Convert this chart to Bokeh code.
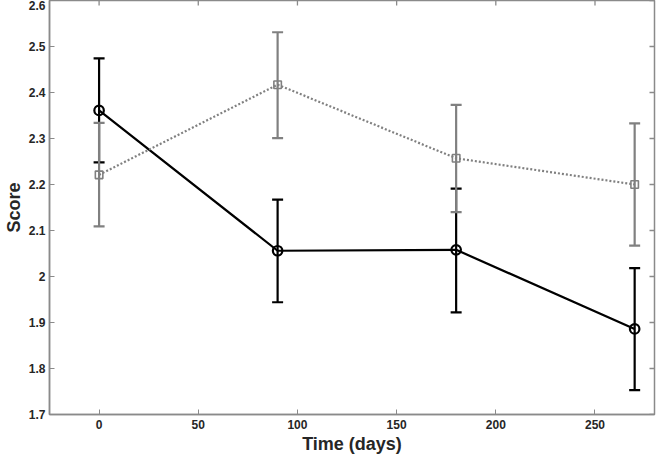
import math
from bokeh.plotting import figure
from bokeh.models import Whisker, TeeHead, ColumnDataSource, FixedTicker, Range1d
from bokeh.embed import file_html
from bokeh.resources import INLINE

days = [0, 90, 180, 270]
black_mean = [2.361, 2.056, 2.058, 1.886]
black_low = [2.248, 1.944, 1.922, 1.753]
black_high = [2.474, 2.167, 2.191, 2.018]
gray_mean = [2.221, 2.417, 2.257, 2.200]
gray_low = [2.109, 2.301, 2.140, 2.067]
gray_high = [2.334, 2.531, 2.373, 2.333]

x_ticks = [0, 50, 100, 150, 200, 250]
y_ticks = [1.7, 1.8, 1.9, 2.0, 2.1, 2.2, 2.3, 2.4, 2.5, 2.6]
y_tick_labels = ["1.7", "1.8", "1.9", "2", "2.1", "2.2", "2.3", "2.4", "2.5", "2.6"]
x_lim = (-25, 280)
y_lim = (1.7, 2.6)

FONT = "Liberation Sans"
AX = "#8a8a8a"
GRAY = "#808080"

p = figure(width=656, height=456, output_backend="svg", toolbar_location=None,
           x_range=Range1d(*x_lim), y_range=Range1d(*y_lim),
           min_border_left=0, min_border_right=2, min_border_top=0, min_border_bottom=0)
p.xgrid.visible = False
p.ygrid.visible = False
p.outline_line_color = AX
p.outline_line_width = 1.5
p.outline_line_alpha = 1

# mirrored inward ticks on top and right edges (clipped to the frame)
p.scatter(x=x_ticks, y=[y_lim[1]] * len(x_ticks), marker="dash", angle=math.pi / 2,
          size=10, line_color=AX, line_width=1.3)
p.scatter(x=[x_lim[1]] * len(y_ticks), y=y_ticks, marker="dash",
          size=10, line_color=AX, line_width=1.3)

black_src = ColumnDataSource(dict(x=days, y=black_mean, lo=black_low, hi=black_high))
gray_src = ColumnDataSource(dict(x=days, y=gray_mean, lo=gray_low, hi=gray_high))

wb = Whisker(source=black_src, base="x", lower="lo", upper="hi",
             line_color="black", line_width=2.2,
             upper_head=TeeHead(size=11, line_color="black", line_width=2.2),
             lower_head=TeeHead(size=11, line_color="black", line_width=2.2))
p.add_layout(wb)
p.line("x", "y", source=black_src, line_color="black", line_width=2.2)
p.scatter("x", "y", source=black_src, marker="circle", size=9.5, line_color="black",
          line_width=2.2, fill_color=None)

wg = Whisker(source=gray_src, base="x", lower="lo", upper="hi",
             line_color=GRAY, line_width=2.2,
             upper_head=TeeHead(size=11, line_color=GRAY, line_width=2.2),
             lower_head=TeeHead(size=11, line_color=GRAY, line_width=2.2))
p.add_layout(wg)
p.line("x", "y", source=gray_src, line_color=GRAY, line_width=2.2, line_dash="2 2")
p.scatter("x", "y", source=gray_src, marker="square", size=7.5, line_color=GRAY,
          line_width=1.6, fill_color=None)

def style(ax):
    ax.axis_line_color = AX
    ax.axis_line_width = 1.5
    ax.major_tick_line_color = AX
    ax.major_tick_in = 5
    ax.major_tick_out = 0
    ax.minor_tick_line_color = None
    ax.major_label_text_font = FONT
    ax.major_label_text_font_style = "bold"
    ax.major_label_text_font_size = "12px"
    ax.major_label_text_color = "#262626"
    ax.axis_label_text_font = FONT
    ax.axis_label_text_font_style = "bold"
    ax.axis_label_text_font_size = "18px"
    ax.axis_label_text_color = "#262626"

p.xaxis.ticker = FixedTicker(ticks=x_ticks)
p.yaxis.ticker = FixedTicker(ticks=y_ticks)
p.yaxis.major_label_overrides = {t: l for t, l in zip(y_ticks, y_tick_labels)}
p.xaxis.axis_label = "Time (days)"
p.yaxis.axis_label = "Score"
style(p.xaxis[0])
style(p.yaxis[0])
p.xaxis.major_label_standoff = 5
p.yaxis.major_label_standoff = 4
p.xaxis.axis_label_standoff = 2
p.yaxis.axis_label_standoff = 2

open("out.html", "w").write(file_html(p, INLINE))
